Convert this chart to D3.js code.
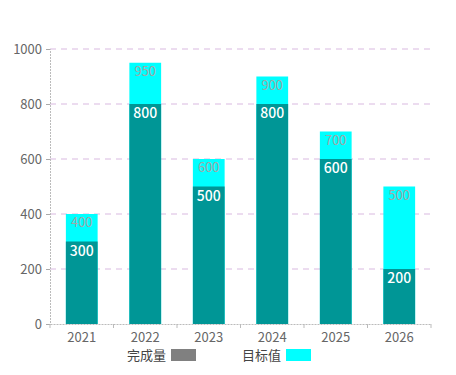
<!DOCTYPE html>
<html lang="zh">
<head>
    <meta charset="UTF-8">
    <title>完成量 / 目标值</title>
    <script src="https://d3js.org/d3.v7.min.js"></script>
    <style>
        body { margin: 0; background: #fff; }
        svg text { font-family: "Microsoft YaHei", "Noto Sans CJK SC", "Noto Sans", sans-serif; }
    </style>
</head>
<body>
    <svg id="chart" width="456" height="375"></svg>
    <script>
        // chart data
        const years = ['2021', '2022', '2023', '2024', '2025', '2026'];
        const done = [300, 800, 500, 800, 600, 200];
        const target = [400, 950, 600, 900, 700, 500];
        const yTicks = [0, 200, 400, 600, 800, 1000];
        const legendNames = ['完成量', '目标值'];

        const width = 456, height = 375;
        const margin = { top: 49, right: 25, bottom: 51, left: 50 };

        const svg = d3.select('#chart');

        const x = d3.scaleBand()
            .domain(years)
            .range([margin.left, width - margin.right])
            .paddingInner(0.5)
            .paddingOuter(0.25);

        const y = d3.scaleLinear()
            .domain([0, 1000])
            .range([height - margin.bottom, margin.top]);

        // grid lines
        svg.append('g')
            .selectAll('line')
            .data(yTicks.filter(d => d > 0))
            .join('line')
            .attr('x1', margin.left)
            .attr('x2', width - margin.right)
            .attr('y1', d => y(d))
            .attr('y2', d => y(d))
            .attr('stroke', '#d9b9e0')
            .attr('stroke-dasharray', '6,5');

        // target bars behind
        svg.append('g')
            .selectAll('rect')
            .data(years)
            .join('rect')
            .attr('x', d => x(d))
            .attr('width', x.bandwidth())
            .attr('y', (d, i) => y(target[i]))
            .attr('height', (d, i) => y(0) - y(target[i]))
            .attr('fill', '#00ffff');

        // completed bars in front
        svg.append('g')
            .selectAll('rect')
            .data(years)
            .join('rect')
            .attr('x', d => x(d))
            .attr('width', x.bandwidth())
            .attr('y', (d, i) => y(done[i]))
            .attr('height', (d, i) => y(0) - y(done[i]))
            .attr('fill', '#009696');

        // labels
        svg.append('g')
            .selectAll('text')
            .data(years)
            .join('text')
            .attr('x', d => x(d) + x.bandwidth() / 2)
            .attr('y', (d, i) => y(target[i]) + 13)
            .attr('text-anchor', 'middle')
            .attr('font-size', 13)
            .attr('fill', '#a0a8a8')
            .text((d, i) => target[i]);

        svg.append('g')
            .selectAll('text')
            .data(years)
            .join('text')
            .attr('x', d => x(d) + x.bandwidth() / 2)
            .attr('y', (d, i) => y(done[i]) + 14)
            .attr('text-anchor', 'middle')
            .attr('font-size', 14)
            .attr('font-weight', 500)
            .attr('fill', '#fff')
            .text((d, i) => done[i]);

        // axes
        const yAxis = svg.append('g')
            .attr('transform', `translate(${margin.left},0)`)
            .call(d3.axisLeft(y).tickValues(yTicks).tickFormat(d3.format('d')).tickSize(4).tickPadding(4));
        yAxis.select('.domain').attr('stroke', '#bbb').attr('stroke-dasharray', '2,1');
        yAxis.selectAll('.tick line').attr('stroke', '#aaa');
        yAxis.selectAll('.tick text').attr('fill', '#666').attr('font-size', 13);

        const xAxis = svg.append('g')
            .attr('transform', `translate(0,${height - margin.bottom})`)
            .call(d3.axisBottom(x).tickSize(0).tickSizeOuter(0).tickPadding(9));
        xAxis.select('.domain').attr('stroke', '#bbb').attr('stroke-dasharray', '2,1');
        xAxis.selectAll('.tick text').attr('fill', '#666').attr('font-size', 13);

        // ticks between categories
        const step = x.step();
        const bounds = d3.range(years.length + 1).map(i => margin.left + i * step);
        xAxis.selectAll('.bound')
            .data(bounds)
            .join('line')
            .attr('class', 'bound')
            .attr('x1', d => d).attr('x2', d => d)
            .attr('y1', 0).attr('y2', 4)
            .attr('stroke', '#bbb');

        // legend
        const legendColors = ['#808080', '#00ffff'];
        const legendX = [127, 242];
        const lg = svg.append('g');
        legendNames.forEach((name, i) => {
            lg.append('text')
                .attr('x', legendX[i])
                .attr('y', 360)
                .attr('font-size', 13)
                .attr('fill', '#444')
                .text(name);
            lg.append('rect')
                .attr('x', legendX[i] + 44)
                .attr('y', 349)
                .attr('width', 25)
                .attr('height', 12)
                .attr('fill', legendColors[i]);
        });
    </script>
</body>
</html>
